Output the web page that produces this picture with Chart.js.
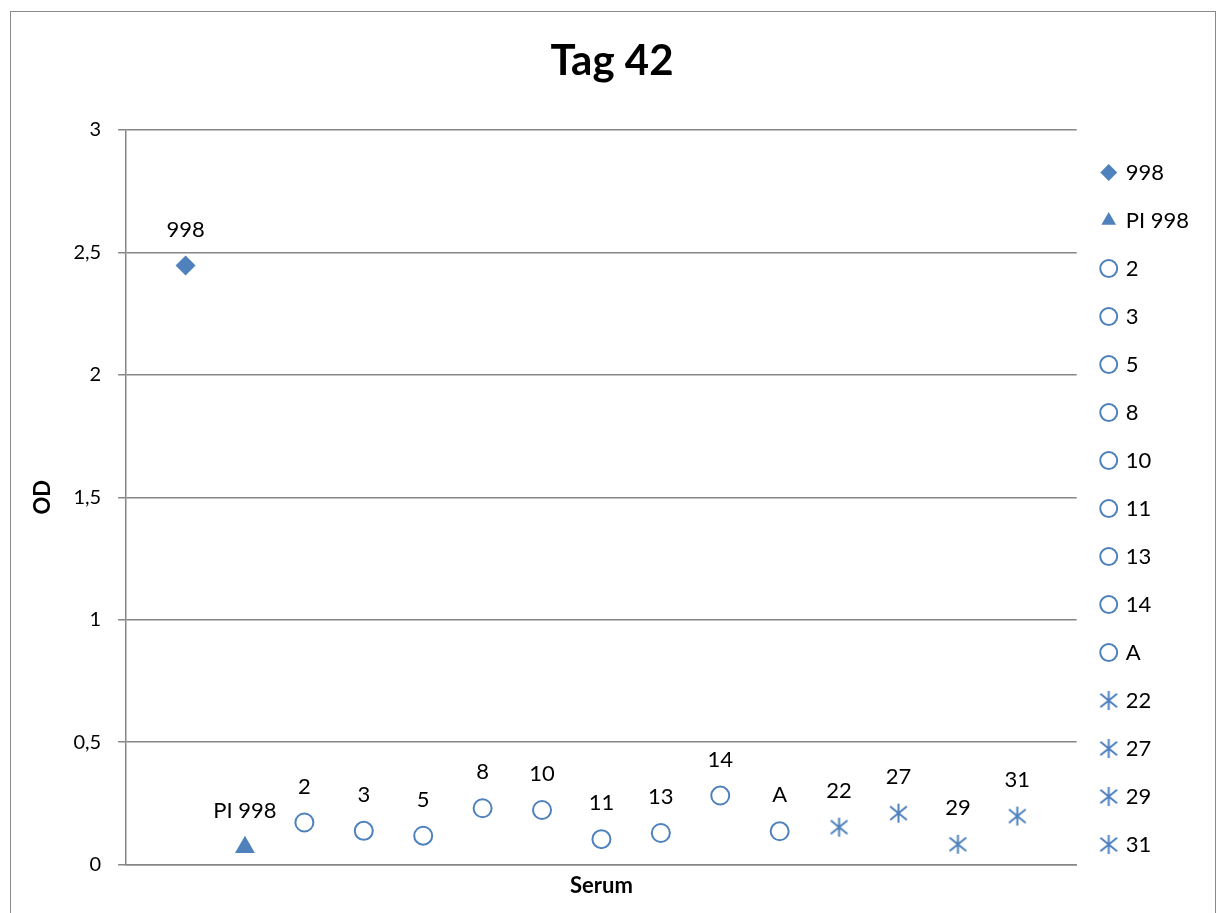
<!DOCTYPE html>
<html><head><meta charset="utf-8">
<script src="https://cdn.jsdelivr.net/npm/chart.js@4"></script>
<style>
html,body{margin:0;padding:0;background:#fff;overflow:hidden}
#wrap{position:absolute;left:0;top:0;width:1222px;height:913px}
#frame{position:absolute;left:10px;top:11px;width:1204px;height:940px;border:1px solid #8a8a8a;pointer-events:none}
</style></head><body>
<div id="wrap"><canvas id="c" width="1222" height="913" style="width:1222px;height:913px"></canvas></div>
<div id="frame"></div>
<script>
// ---- data ----
const seriesNames = ['998','PI 998','2','3','5','8','10','11','13','14','A','22','27','29','31'];
const xPositions  = [1,2,3,4,5,6,7,8,9,10,11,12,13,14,15];
const odValues    = [2.447,0.071,0.172,0.138,0.118,0.230,0.223,0.104,0.129,0.282,0.136,0.153,0.210,0.083,0.198];
const markerTypes = ['diamond','triangle','circle','circle','circle','circle','circle','circle','circle','circle','circle','star','star','star','star'];
const yTicks      = [0,0.5,1,1.5,2,2.5,3];

const BLUE = '#4F81BD';
const FONT = 'Lato';

function makeAsterisk(r){
  const s = Math.ceil(r*2+4);
  const cv = document.createElement('canvas');
  cv.width = s; cv.height = s;
  const g = cv.getContext('2d');
  const c = s/2;
  g.strokeStyle = BLUE; g.lineWidth = 2; g.lineCap = 'butt';
  g.beginPath();
  g.moveTo(c, c-r); g.lineTo(c, c+r);
  g.moveTo(c-r*0.88, c-r*0.72); g.lineTo(c+r*0.88, c+r*0.72);
  g.moveTo(c-r*0.88, c+r*0.72); g.lineTo(c+r*0.88, c-r*0.72);
  g.stroke();
  return cv;
}
const starBig = makeAsterisk(9.5);

function styleFor(type){
  if (type==='diamond') return {pointStyle:'rectRot', pointRadius:10, backgroundColor:BLUE, borderColor:BLUE, borderWidth:0};
  if (type==='triangle') return {pointStyle:'triangle', pointRadius:11.5, backgroundColor:BLUE, borderColor:BLUE, borderWidth:0};
  if (type==='circle') return {pointStyle:'circle', pointRadius:9, backgroundColor:'#ffffff', borderColor:BLUE, borderWidth:2};
  return {pointStyle:starBig, pointRadius:10, backgroundColor:BLUE, borderColor:BLUE, borderWidth:0};
}

const datasets = seriesNames.map((name,i)=>Object.assign({
  label:name,
  data:[{x:xPositions[i], y:odValues[i]}]
}, styleFor(markerTypes[i])));

const pointLabels = {
  id:'pointLabels',
  afterDatasetsDraw(chart){
    const ctx = chart.ctx;
    ctx.save();
    ctx.font = '22px ' + FONT;
    ctx.fillStyle = '#000';
    ctx.textAlign = 'center';
    ctx.textBaseline = 'middle';
    chart.data.datasets.forEach((ds,i)=>{
      const meta = chart.getDatasetMeta(i);
      meta.data.forEach(pt=>{
        ctx.fillText(ds.label, pt.x, pt.y - 36);
      });
    });
    ctx.restore();
  }
};

new Chart(document.getElementById('c'), {
  type:'scatter',
  data:{datasets},
  plugins:[pointLabels],
  options:{
    responsive:false,
    animation:false,
    events:[],
    layout:{padding:{left:25, right:23, top:0, bottom:14}},
    plugins:{
      tooltip:{enabled:false},
      title:{display:true, text:'Tag 42', color:'#000',
        font:{family:FONT, size:42, weight:'bold', lineHeight:1},
        padding:{top:40, bottom:48}},
      legend:{display:true, position:'right', fullSize:true, align:'center',
        title:{display:true, text:' ', font:{size:10, lineHeight:1}, padding:{top:0,bottom:108}},
        labels:{usePointStyle:true, boxWidth:12, boxHeight:12, padding:26, color:'#000',
          font:{family:FONT, size:22}}}
    },
    scales:{
      x:{type:'linear', min:0, max:16,
        grid:{display:false, drawTicks:false},
        border:{display:true, color:'#868686', width:1.5},
        ticks:{display:false},
        title:{display:true, text:'Serum', color:'#000', font:{family:FONT, size:22, weight:'bold', lineHeight:1.2}, padding:{top:8, bottom:0}}
      },
      y:{type:'linear', min:0, max:3,
        afterBuildTicks:(axis)=>{ axis.ticks = yTicks.map(v=>({value:v})); },
        grid:{display:true, color:'#868686', lineWidth:1.5, drawTicks:true, tickLength:8, tickColor:'#868686'},
        border:{display:true, color:'#868686', width:1.5},
        ticks:{color:'#000', padding:17, font:{family:FONT, size:20},
          callback:(v)=>String(v).replace('.', ',')},
        title:{display:true, text:'OD', color:'#000', font:{family:FONT, size:22, weight:'bold', lineHeight:1.2}, padding:{top:5, bottom:0}}
      }
    }
  }
});
</script>
</body></html>
